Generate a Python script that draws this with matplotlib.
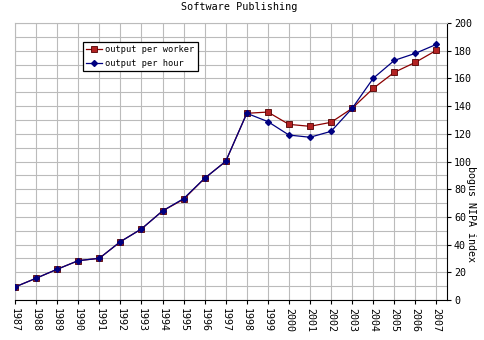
import matplotlib
matplotlib.use("Agg")
import matplotlib.pyplot as plt
from matplotlib.ticker import MultipleLocator

plt.rcParams['font.family'] = ['DejaVu Sans Mono']

# datos
years = list(range(1987, 2008))
per_worker = [9.4, 15.7, 22.2, 28.4, 30.1, 42.1, 51.3, 64.3, 72.7, 87.9, 100.1,
              134.8, 135.7, 126.8, 125.4, 128.3, 138.4, 152.8, 164.4, 171.6, 180.3]
per_hour = [9.4, 15.7, 22.2, 28.4, 30.1, 42.1, 51.3, 64.3, 73.2, 87.9, 100.1,
            134.8, 128.8, 119.1, 117.5, 121.8, 138.4, 160.1, 173.0, 178.1, 184.6]

fig = plt.figure(figsize=(4.84, 3.4), dpi=100)
ax = fig.add_axes([15/484, 40/340, 432/484, 277/340])

ax.plot(years, per_worker, color="#8b0000", lw=0.9, marker="s", ms=4.5,
        mfc="#b22222", mec="#500000", mew=0.6, label="output per worker", zorder=3)
ax.plot(years, per_hour, color="#000080", lw=0.9, marker="D", ms=3,
        mfc="#000080", mec="#000080", label="output per hour", zorder=4)

ax.set_xlim(1987, 2007.5)
ax.set_ylim(0, 200)
ax.set_xticks(years)
ax.set_xticklabels([str(y) for y in years], rotation=-90, fontsize=7.2)
ax.yaxis.set_major_locator(MultipleLocator(20))
ax.yaxis.set_minor_locator(MultipleLocator(10))
ax.yaxis.tick_right()
ax.yaxis.set_label_position("right")
ax.tick_params(axis="y", which="both", labelsize=7.2, length=3, pad=2)
ax.tick_params(axis="y", which="minor", length=0)
ax.tick_params(axis="x", length=3, pad=3)
ax.set_ylabel("bogus NIPA index", rotation=-90, fontsize=7.2)
ax.yaxis.set_label_coords(1.068, 0.31)

ax.grid(True, which="both", color="#bbbbbb", lw=0.8)
ax.set_axisbelow(True)
ax.spines["left"].set_color("#bbbbbb")
ax.spines["top"].set_color("#bbbbbb")
ax.spines["right"].set_color("black")
ax.spines["bottom"].set_color("black")

ax.set_title("Software Publishing", fontsize=7.3, pad=9, x=0.52)

leg = ax.legend(loc="upper left", bbox_to_anchor=(68/432, 1 - 19/277), fontsize=6.2,
                frameon=True, fancybox=False, edgecolor="black", framealpha=1,
                handlelength=1.8, borderpad=0.4, labelspacing=0.5, handletextpad=0.4,
                borderaxespad=0)
leg.get_frame().set_linewidth(0.9)

fig.savefig("out.png", dpi=100)
